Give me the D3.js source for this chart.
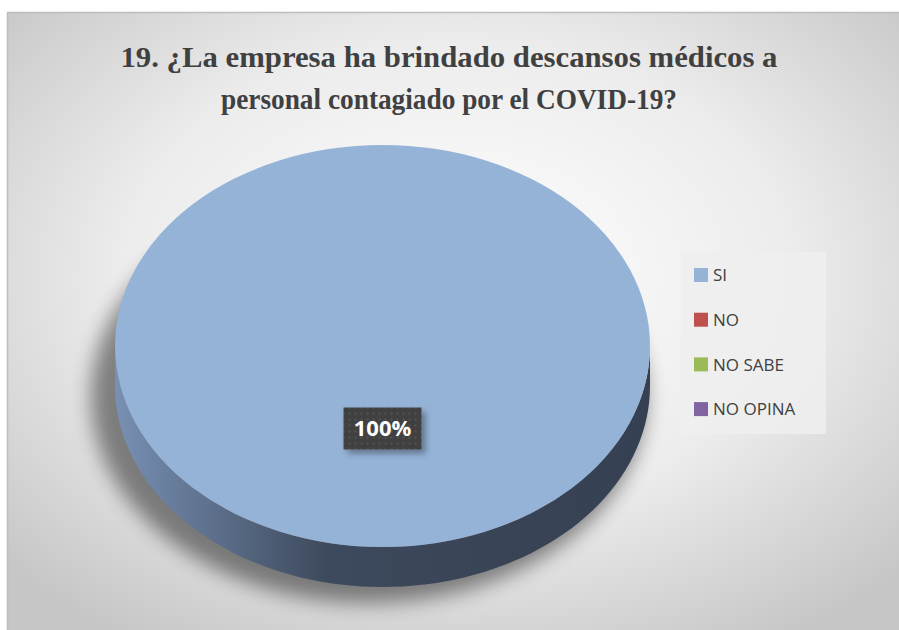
<!DOCTYPE html>
<html>
<head>
<meta charset="utf-8">
<script src="https://cdn.jsdelivr.net/npm/d3@7"></script>
<style>
  html, body { margin: 0; padding: 0; background: #fff; overflow: hidden; }
  svg { display: block; }
</style>
</head>
<body>
<svg id="viz" width="899" height="630"></svg>
<script>
// --- Data ---
const categories = ["SI", "NO", "NO SABE", "NO OPINA"];
const values = [100, 0, 0, 0];
const titleLines = ["19. ¿La empresa ha brindado descansos médicos a", "personal contagiado por el COVID-19?"];
const titleWidths = [657, 456];

const CONFIG = {
    cx: 382.5, cy: 346, rx: 267.5, ry: 201, depth: 40,
    colors: ["#95b3d7", "#c0504d", "#9bbb59", "#8064a2"],
    text: "#404040"
};

const svg = d3.select("#viz");
const defs = svg.append("defs");

// background gradient
const bg = defs.append("radialGradient").attr("id", "bg")
    .attr("cx", "50%").attr("cy", "42%").attr("r", "68%");
bg.append("stop").attr("offset", "0%").attr("stop-color", "#ffffff");
bg.append("stop").attr("offset", "55%").attr("stop-color", "#ececec");
bg.append("stop").attr("offset", "100%").attr("stop-color", "#c6c6c6");

// side wall gradient
const side = defs.append("linearGradient").attr("id", "side")
    .attr("gradientUnits", "userSpaceOnUse")
    .attr("x1", CONFIG.cx - CONFIG.rx).attr("x2", CONFIG.cx + CONFIG.rx).attr("y1", 0).attr("y2", 0);
side.append("stop").attr("offset", "0%").attr("stop-color", "#7890b3");
side.append("stop").attr("offset", "40%").attr("stop-color", "#3d495c");
side.append("stop").attr("offset", "100%").attr("stop-color", "#354052");

defs.append("filter").attr("id", "blur").attr("x", "-20%").attr("y", "-20%").attr("width", "140%").attr("height", "140%")
    .append("feGaussianBlur").attr("stdDeviation", 10);

const lblShadow = defs.append("filter").attr("id", "lblShadow").attr("x", "-30%").attr("y", "-30%").attr("width", "170%").attr("height", "180%");
lblShadow.append("feDropShadow").attr("dx", 4).attr("dy", 4).attr("stdDeviation", 3)
    .attr("flood-color", "#000").attr("flood-opacity", 0.35);

const dots = defs.append("pattern").attr("id", "dots").attr("patternUnits", "userSpaceOnUse")
    .attr("width", 6).attr("height", 6);
dots.append("rect").attr("width", 6).attr("height", 6).attr("fill", "#3f3f3f");
dots.append("rect").attr("x", 2).attr("y", 2).attr("width", 2).attr("height", 2).attr("fill", "#555");

// --- Chart area ---
svg.append("rect")
    .attr("x", 7.5).attr("y", 12.5).attr("width", 900).attr("height", 630)
    .attr("fill", "url(#bg)").attr("stroke", "#bdbdbd").attr("stroke-width", 1.5);

// --- Title ---
svg.append("g").selectAll("text")
    .data(titleLines)
    .join("text")
    .attr("x", 449).attr("y", (d, i) => 67 + i * 42)
    .attr("text-anchor", "middle")
    .style("font-family", "'Liberation Serif', 'DejaVu Serif', serif")
    .attr("font-weight", "bold").attr("font-size", 29)
    .attr("textLength", (d, i) => titleWidths[i]).attr("lengthAdjust", "spacingAndGlyphs")
    .attr("fill", CONFIG.text)
    .text(d => d);

// --- Pie ---
const pie = d3.pie().sort(null).value(d => d.value);
const slices = pie(categories.map((c, i) => ({ name: c, value: values[i] })))
    .filter(d => d.value > 0);

const arc = d3.arc().innerRadius(0).outerRadius(1);
const pt = a => [CONFIG.cx + Math.sin(a) * CONFIG.rx, CONFIG.cy - Math.cos(a) * CONFIG.ry];

// shadow
svg.append("ellipse")
    .attr("cx", CONFIG.cx - 14).attr("cy", CONFIG.cy + CONFIG.depth + 10)
    .attr("rx", CONFIG.rx + 10).attr("ry", CONFIG.ry + 6)
    .attr("fill", "#000").attr("opacity", 0.45)
    .attr("filter", "url(#blur)");

// side walls (front half only)
function sidePath(d) {
    const a0 = Math.max(d.startAngle, Math.PI / 2);
    const a1 = Math.min(d.endAngle, Math.PI * 1.5);
    if (a1 <= a0) return null;
    const n = 80, top = [], bot = [];
    for (let k = 0; k <= n; k++) {
        const a = a0 + (a1 - a0) * k / n;
        const p = pt(a);
        top.push(p);
        bot.push([p[0], p[1] + CONFIG.depth]);
    }
    return d3.line()(top.concat(bot.reverse())) + "Z";
}

svg.append("g").selectAll("path")
    .data(slices)
    .join("path")
    .attr("d", sidePath)
    .attr("fill", "url(#side)");

// top faces
svg.append("g")
    .attr("transform", `translate(${CONFIG.cx},${CONFIG.cy}) scale(${CONFIG.rx},${CONFIG.ry})`)
    .selectAll("path")
    .data(slices)
    .join("path")
    .attr("d", arc)
    .attr("fill", d => CONFIG.colors[d.index]);

// data label
const labels = svg.append("g").selectAll("g")
    .data(slices)
    .join("g")
    .attr("transform", d => {
        const mid = (d.startAngle + d.endAngle) / 2;
        const r = d.endAngle - d.startAngle >= 2 * Math.PI - 1e-6 ? 0.5 : 0.6;
        return `translate(${CONFIG.cx + Math.sin(mid) * CONFIG.rx * r},${CONFIG.cy - Math.cos(mid) * CONFIG.ry * r - 18})`;
    });

labels.append("rect")
    .attr("x", -39).attr("y", -21).attr("width", 78).attr("height", 42)
    .attr("fill", "url(#dots)").attr("filter", "url(#lblShadow)");

labels.append("text")
    .attr("text-anchor", "middle").attr("dy", "0.36em")
    .attr("font-family", "'Open Sans', sans-serif").attr("font-weight", "bold").attr("font-size", 22)
    .attr("fill", "#fff")
    .text(d => d3.format(".0%")(d.value / d3.sum(values)));

// --- Legend ---
const legend = svg.append("g").attr("transform", "translate(681,252)");
legend.append("rect").attr("width", 145).attr("height", 182).attr("fill", "#efefef").attr("opacity", 0.85);

const item = legend.selectAll(".item")
    .data(categories)
    .join("g")
    .attr("class", "item")
    .attr("transform", (d, i) => `translate(13,${23 + i * 44.7})`);

item.append("rect")
    .attr("x", 0).attr("y", -7).attr("width", 14).attr("height", 14)
    .attr("fill", (d, i) => CONFIG.colors[i]);

item.append("text")
    .attr("x", 19).attr("dy", "0.36em")
    .attr("font-family", "'Open Sans', sans-serif").attr("font-size", 17)
    .attr("fill", CONFIG.text)
    .text(d => d);
</script>
</body>
</html>
